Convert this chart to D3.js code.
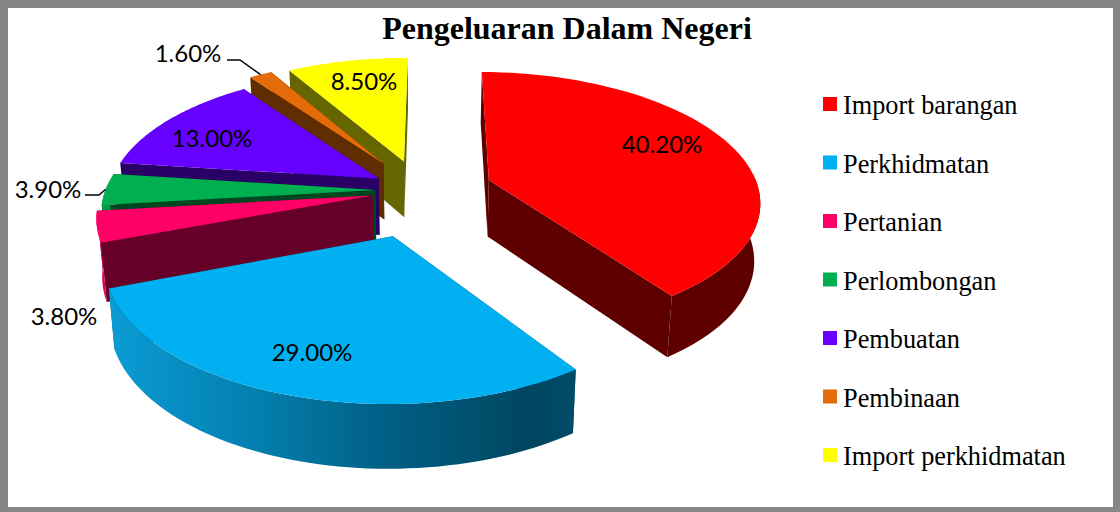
<!DOCTYPE html>
<html><head><meta charset="utf-8">
<script src="https://cdn.jsdelivr.net/npm/d3@7"></script>
<style>html,body{margin:0;padding:0;background:#fff}svg{display:block}</style>
</head><body><svg id="c" width="1120" height="512"></svg>
<script>
const categories = ["Import barangan","Perkhidmatan","Pertanian","Perlombongan","Pembuatan","Pembinaan","Import perkhidmatan"];
const values = [40.2,29.0,3.8,3.9,13.0,1.6,8.5];
const valueLabels = ["40.20%","29.00%","3.80%","3.90%","13.00%","1.60%","8.50%"];
const explode = [0.27,0.362,0.18,0.165,0.18,0.255,0.24];
const nudgeU = [0,0.013,0,0,0,0,0];
const topColors = ["#ff0000","#00b0f0","#ff0066","#00b050","#6600ff","#e36c09","#ffff00"];
const faceColors = ["#5e0000","#004660","#660029","#004620","#2a0066","#5f2d00","#666600"];
const wallColors = ["#5e0000","url(#blueWall)","#e0005a","#009a46","#5500d8","#c05c08","#d8d800"];
const drawOrder = [6,5,4,3,2,0,1];
const labelPos = [[662,153],[312,361],[64,325],[48,198],[212,147],[188,62],[364,90]];
const leaders = [null,null,null,[[85,195],[99,195]],null,[[227,60],[240,60]],null];

const svg = d3.select("#c");
const cx=420, cy=190, R=270, K=127, P=0.15, D=57, BOTTOM=0.982;
const xS = d3.scaleLinear().domain([-1,1]).range([cx-R,cx+R]);
const yS = d3.scaleLinear().domain([-1,1]).range([cy-K,cy+K]);
function project(u,v,low){
  const s=1/(1-P*v);
  let x=cx+(xS(u)-cx)*s, y=cy+(yS(v)-cy)*s;
  if(low){ x=cx+(x-cx)*BOTTOM; y+=D*(1+0.1*v); }
  return [x,y];
}
const pie = d3.pie().sort(null).startAngle(0.008).endAngle(2*Math.PI+0.008);
const arcs = pie(values);
const line = d3.line();
function geom(i){
  const a=arcs[i], m=(a.startAngle+a.endAngle)/2, e=explode[i];
  const ou=e*Math.sin(m)+nudgeU[i], ov=-e*Math.cos(m);
  const ts=d3.range(0,61).map(k=>a.startAngle+(a.endAngle-a.startAngle)*k/60);
  const pts=ts.map(t=>[ou+Math.sin(t), ov-Math.cos(t)]);
  const front=ts.filter(t=>Math.cos(t)<0.05).map(t=>[ou+Math.sin(t), ov-Math.cos(t)]);
  return {apex:[ou,ov],pts,front,mid:[ou+Math.sin(m),ov-Math.cos(m)]};
}
const defs=svg.append("defs");
const g=defs.append("linearGradient").attr("id","blueWall").attr("gradientUnits","userSpaceOnUse")
 .attr("x1",110).attr("x2",575).attr("y1",0).attr("y2",0);
[[0,"#0a9cd4"],[0.3,"#0480b0"],[0.6,"#005f84"],[0.9,"#004660"],[1,"#004c68"]].forEach(s=>g.append("stop").attr("offset",s[0]).attr("stop-color",s[1]));

svg.append("rect").attr("width",1120).attr("height",512).attr("fill","#868686");
svg.append("rect").attr("x",8).attr("y",8).attr("width",1105).attr("height",499).attr("fill","#fff");

drawOrder.forEach(i=>{
  const G=geom(i), gr=svg.append("g");
  const first=G.pts[0], last=G.pts[G.pts.length-1];
  const quad=p=>[project(...G.apex,false),project(...p,false),project(...p,true),project(...G.apex,true)];
  gr.append("path").attr("d",line(quad(last))+"Z").attr("fill",faceColors[i]);
  gr.append("path").attr("d",line(quad(first))+"Z").attr("fill",faceColors[i]);
  if(G.front.length>1){
    const wall=G.front.map(p=>project(...p,false)).concat(G.front.slice().reverse().map(p=>project(...p,true)));
    gr.append("path").attr("d",line(wall)+"Z").attr("fill",wallColors[i]);
  }
  const top=[project(...G.apex,false)].concat(G.pts.map(p=>project(...p,false)));
  gr.append("path").attr("d",line(top)+"Z").attr("fill",topColors[i]);
});

// leader lines run from the label elbow to the slice's outer edge
leaders.forEach((l,i)=>{
  if(!l) return;
  const end=project(...geom(i).mid,false);
  svg.append("path").attr("d",line(l.concat([end]))).attr("fill","none").attr("stroke","#000").attr("stroke-width",1.5);
});

valueLabels.forEach((t,i)=>{
  svg.append("text").attr("x",labelPos[i][0]).attr("y",labelPos[i][1]).attr("text-anchor","middle")
   .attr("font-family","Lato").attr("font-size",24).attr("fill","#000").text(t);
});

svg.append("text").attr("x",567).attr("y",39).attr("text-anchor","middle")
 .attr("font-family","Liberation Serif").attr("font-weight","bold").attr("font-size",32).text("Pengeluaran Dalam Negeri");

const legendY=d3.scalePoint().domain(categories).range([97,448]);
categories.forEach((c,i)=>{
  svg.append("rect").attr("x",823).attr("y",legendY(c)).attr("width",14).attr("height",14).attr("fill",topColors[i]);
  svg.append("text").attr("x",843).attr("y",legendY(c)+17).attr("font-family","Liberation Serif")
   .attr("font-size",26.3).attr("fill","#000").text(c);
});
</script></body></html>
